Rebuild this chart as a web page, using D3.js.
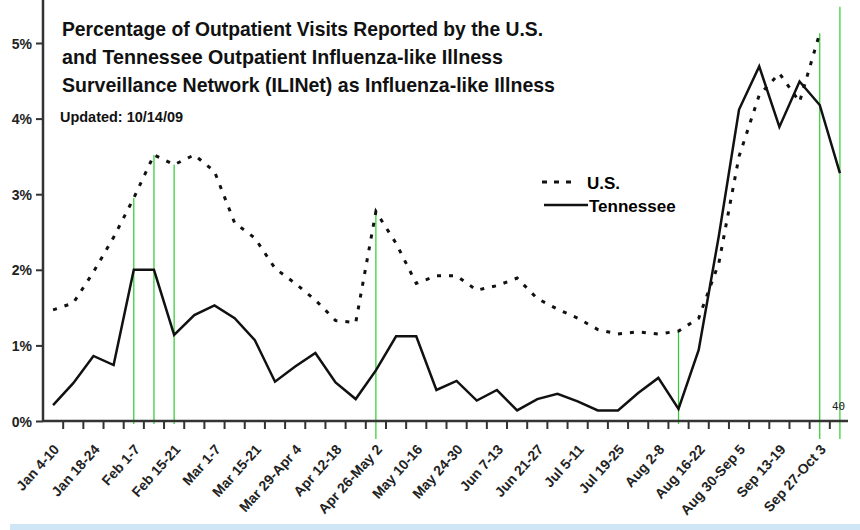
<!DOCTYPE html>
<html lang="en">
<head>
<meta charset="UTF-8">
<title>ILINet outpatient visits</title>
<style>
    body {
        margin: 0;
        background: #fff;
    }
    svg {
        display: block;
        font-family: "Liberation Sans", Arial, sans-serif;
    }
    .axis path,
    .axis line {
        stroke: #333;
    }
    .axis text {
        font-size: 14px;
        font-weight: bold;
        fill: #222;
    }
</style>
</head>
<body>
<svg width="860" height="530"></svg>

<script src="https://d3js.org/d3.v7.min.js"></script>
<script>
    // week categories (2009, weeks 1-40)
    const weeks = [
        "Jan 4-10", "Jan 11-17", "Jan 18-24", "Jan 25-31", "Feb 1-7", "Feb 8-14",
        "Feb 15-21", "Feb 22-28", "Mar 1-7", "Mar 8-14", "Mar 15-21", "Mar 22-28",
        "Mar 29-Apr 4", "Apr 5-11", "Apr 12-18", "Apr 19-25", "Apr 26-May 2", "May 3-9",
        "May 10-16", "May 17-23", "May 24-30", "May 31-Jun 6", "Jun 7-13", "Jun 14-20",
        "Jun 21-27", "Jun 28-Jul 4", "Jul 5-11", "Jul 12-18", "Jul 19-25", "Jul 26-Aug 1",
        "Aug 2-8", "Aug 9-15", "Aug 16-22", "Aug 23-29", "Aug 30-Sep 5", "Sep 6-12",
        "Sep 13-19", "Sep 20-26", "Sep 27-Oct 3", "Oct 4-10"
    ];

    // % of visits for ILI
    const usValues = [
        1.47, 1.56, 1.97, 2.43, 2.95, 3.52, 3.39, 3.52, 3.30, 2.62,
        2.42, 2.02, 1.82, 1.60, 1.33, 1.30, 2.77, 2.35, 1.82, 1.92,
        1.92, 1.73, 1.79, 1.89, 1.62, 1.48, 1.36, 1.21, 1.15, 1.18,
        1.15, 1.19, 1.36, 2.09, 3.50, 4.31, 4.60, 4.22, 5.13, null
    ];
    const tnValues = [
        0.21, 0.50, 0.86, 0.74, 2.00, 2.00, 1.14, 1.40, 1.53, 1.36,
        1.07, 0.52, 0.72, 0.90, 0.51, 0.29, 0.67, 1.12, 1.12, 0.41,
        0.53, 0.27, 0.41, 0.14, 0.29, 0.36, 0.26, 0.14, 0.14, 0.37,
        0.57, 0.16, 0.94, 2.45, 4.12, 4.69, 3.89, 4.49, 4.18, 3.28
    ];

    // green marker lines (week index, top in %)
    const markWeeks = [4, 5, 6, 16, 31, 38, 39];
    const markTops = [2.95, 3.52, 3.39, 2.80, 1.19, 5.13, 5.48];

    const yTicks = [0, 1, 2, 3, 4, 5];

    const titleLines = [
        "Percentage of Outpatient Visits Reported by the U.S.",
        "and Tennessee Outpatient  Influenza-like Illness",
        "Surveillance Network (ILINet)   as Influenza-like Illness"
    ];

    const svg = d3.select("svg");
    const x0 = 43, x1 = 850, yBase = 421;

    const x = d3.scaleBand()
        .domain(d3.range(weeks.length))
        .range([x0, x1]);
    const cx = i => x(i) + x.bandwidth() / 2;

    const y = d3.scaleLinear()
        .domain([0, 6])
        .range([yBase, yBase - 6 * 75.6]);

    // bottom band (caption strip)
    svg.append("rect")
        .attr("x", 10).attr("y", 524)
        .attr("width", 850).attr("height", 6)
        .attr("fill", "#cfe6f6");

    // green marker lines
    svg.append("g")
        .selectAll("line")
        .data(markWeeks)
        .join("line")
        .attr("x1", d => cx(d)).attr("x2", d => cx(d))
        .attr("y1", (d, i) => y(markTops[i]))
        .attr("y2", (d, i) => i >= 5 || d === 16 ? yBase + 18 : yBase + 3)
        .attr("stroke", "#2ccc2c")
        .attr("stroke-width", 1.2);

    // y axis
    const yAxis = d3.axisLeft(y)
        .tickValues(yTicks)
        .tickFormat(d => d + "%")
        .tickSize(7)
        .tickPadding(4);
    const gy = svg.append("g")
        .attr("class", "axis")
        .attr("transform", `translate(${x0},0)`)
        .call(yAxis);
    gy.select(".domain").remove();
    gy.append("line")
        .attr("x1", 0).attr("x2", 0)
        .attr("y1", 0).attr("y2", yBase)
        .attr("stroke", "#333")
        .attr("stroke-width", 2.5);
    gy.selectAll(".tick line").attr("stroke-width", 2);
    gy.selectAll(".tick text").attr("font-size", 14).attr("dy", "0.36em");

    // x axis: ticks on week boundaries, labels every second week
    const gx = svg.append("g").attr("class", "axis");
    gx.append("line")
        .attr("x1", x0).attr("x2", 848)
        .attr("y1", yBase).attr("y2", yBase)
        .attr("stroke", "#333")
        .attr("stroke-width", 2.5);
    gx.selectAll(".xt")
        .data(d3.range(1, weeks.length))
        .join("line")
        .attr("class", "xt")
        .attr("x1", d => x(d)).attr("x2", d => x(d))
        .attr("y1", yBase).attr("y2", yBase + 8)
        .attr("stroke", "#333")
        .attr("stroke-width", 2);
    gx.selectAll(".xl")
        .data(weeks.map((w, i) => ({ w, i })).filter(d => d.i % 2 === 0))
        .join("text")
        .attr("class", "xl")
        .attr("text-anchor", "end")
        .attr("font-size", 15)
        .attr("transform", d => `translate(${cx(d.i) + 7},${yBase + 29}) rotate(-48)`)
        .text(d => d.w);

    // series
    const line = d3.line()
        .defined(d => d != null)
        .x((d, i) => cx(i))
        .y(d => y(d));

    svg.append("path")
        .datum(usValues)
        .attr("d", line)
        .attr("fill", "none")
        .attr("stroke", "#111")
        .attr("stroke-width", 3)
        .attr("stroke-dasharray", "4,8");

    svg.append("path")
        .datum(tnValues)
        .attr("d", line)
        .attr("fill", "none")
        .attr("stroke", "#111")
        .attr("stroke-width", 2.5)
        .attr("stroke-linejoin", "miter");

    // title
    svg.append("g")
        .selectAll("text")
        .data(titleLines)
        .join("text")
        .attr("x", 62)
        .attr("y", (d, i) => 36 + i * 28)
        .attr("font-size", 21)
        .attr("font-weight", "bold")
        .attr("fill", "#111")
        .attr("textLength", (d, i) => [481, 441, 493][i])
        .attr("lengthAdjust", "spacingAndGlyphs")
        .text(d => d);

    svg.append("text")
        .attr("x", 60).attr("y", 122)
        .attr("font-size", 14)
        .attr("font-weight", "bold")
        .attr("fill", "#111")
        .attr("textLength", 123)
        .attr("lengthAdjust", "spacingAndGlyphs")
        .text("Updated: 10/14/09");

    // legend
    const lg = svg.append("g").attr("transform", "translate(542,0)");
    lg.append("line")
        .attr("x1", 0).attr("x2", 34)
        .attr("y1", 182).attr("y2", 182)
        .attr("stroke", "#111")
        .attr("stroke-width", 3)
        .attr("stroke-dasharray", "5,7");
    lg.append("text")
        .attr("x", 45).attr("y", 189)
        .attr("font-size", 17).attr("font-weight", "bold")
        .text("U.S.");
    lg.append("line")
        .attr("x1", 2).attr("x2", 46)
        .attr("y1", 205).attr("y2", 205)
        .attr("stroke", "#111")
        .attr("stroke-width", 2.5);
    lg.append("text")
        .attr("x", 47).attr("y", 212)
        .attr("font-size", 17).attr("font-weight", "bold")
        .text("Tennessee");

    // week number note
    svg.append("text")
        .attr("x", 832).attr("y", 410)
        .attr("font-family", "DejaVu Sans Mono, monospace")
        .attr("font-size", 11)
        .attr("fill", "#222")
        .text("40");
</script>
</body>
</html>
